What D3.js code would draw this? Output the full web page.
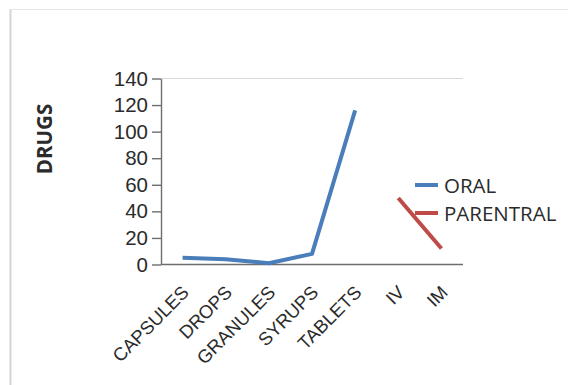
<!DOCTYPE html>
<html>
<head>
<meta charset="utf-8">
<script src="https://cdn.jsdelivr.net/npm/d3@7"></script>
<style>
  html, body { margin: 0; padding: 0; background: #fff; }
  svg { display: block; font-family: "Open Sans", sans-serif; }
  .tick text { fill: #2b2b2b; font-size: 20.5px; }
  .x-axis .tick text { font-size: 18.5px; }
  .axis .domain, .axis .tick line { stroke: #6e6e6e; stroke-width: 1.4; }
</style>
</head>
<body>
<svg id="chart" width="568" height="385"></svg>
<script>
// drug forms chart — oral vs parentral

const categories = ['CAPSULES', 'DROPS', 'GRANULES', 'SYRUPS', 'TABLETS', 'IV', 'IM'];
const oral = [5, 4, 1, 8, 116, null, null];
const parentral = [null, null, null, null, null, 50, 12];
const yTicks = [0, 20, 40, 60, 80, 100, 120, 140];
const seriesNames = ['ORAL', 'PARENTRAL'];
const seriesColors = ['#4a7ebb', '#be4b48'];

const svg = d3.select('#chart');

const plot = { left: 161, right: 463, top: 78.5, bottom: 264.5 };

// outer frame (only left + top visible in the original)
svg.append('line')
  .attr('x1', 10.5).attr('x2', 10.5).attr('y1', 9).attr('y2', 385)
  .attr('stroke', '#d4d4d4').attr('stroke-width', 2);
svg.append('line')
  .attr('x1', 10).attr('x2', 568).attr('y1', 9.5).attr('y2', 9.5)
  .attr('stroke', '#e6e6e6').attr('stroke-width', 1);

const x = d3.scalePoint()
  .domain(categories)
  .range([plot.left, plot.right])
  .padding(0.5);

const y = d3.scaleLinear()
  .domain([0, 140])
  .range([plot.bottom, plot.top]);

// top gridline at max value
svg.append('line')
  .attr('x1', plot.left).attr('x2', plot.right)
  .attr('y1', y(140)).attr('y2', y(140))
  .attr('stroke', '#d9d9d9').attr('stroke-width', 1.2);

// y axis
svg.append('g')
  .attr('class', 'axis')
  .attr('transform', `translate(${plot.left},0)`)
  .call(d3.axisLeft(y).tickValues(yTicks).tickSize(9).tickPadding(4).tickSizeOuter(0));

// x axis
const xAxis = svg.append('g')
  .attr('class', 'axis x-axis')
  .attr('transform', `translate(0,${plot.bottom})`)
  .call(d3.axisBottom(x).tickSize(0).tickSizeOuter(0));
xAxis.select('.domain').attr('d', `M${plot.left},0H${plot.right}`);
xAxis.selectAll('.tick text')
  .attr('x', 0).attr('y', 0).attr('dy', 0)
  .attr('transform', 'translate(7,29) rotate(-45)')
  .style('text-anchor', 'end');

// y axis title
svg.append('text')
  .attr('transform', 'translate(44,139) rotate(-90)')
  .attr('text-anchor', 'middle')
  .attr('dominant-baseline', 'central')
  .attr('font-weight', 'bold')
  .attr('font-size', 20.5)
  .attr('fill', '#2b2b2b')
  .text('DRUGS');

// lines
const line = d3.line()
  .defined(d => d.v != null)
  .x(d => x(d.c))
  .y(d => y(d.v));

[oral, parentral].forEach((vals, i) => {
  const pts = categories.map((c, j) => ({ c, v: vals[j] }));
  svg.append('path')
    .datum(pts)
    .attr('fill', 'none')
    .attr('stroke', seriesColors[i])
    .attr('stroke-width', 4)
    .attr('stroke-linejoin', 'round')
    .attr('d', line);
});

// legend
const legend = svg.append('g').selectAll('g')
  .data(seriesNames)
  .join('g')
  .attr('transform', (d, i) => `translate(415,${185 + i * 28})`);

legend.append('line')
  .attr('x1', 0).attr('x2', 23)
  .attr('stroke', (d, i) => seriesColors[i])
  .attr('stroke-width', 4);

legend.append('text')
  .attr('x', 29)
  .attr('dominant-baseline', 'central')
  .attr('font-size', 20.5)
  .attr('fill', '#2b2b2b')
  .text(d => d);
</script>
</body>
</html>
